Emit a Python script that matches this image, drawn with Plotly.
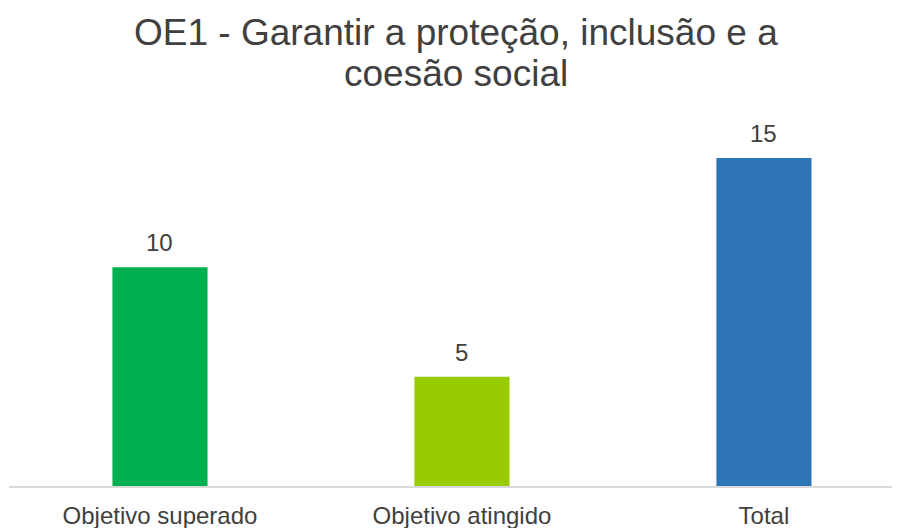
import plotly.graph_objs as go

CATEGORIES = ["Objetivo superado", "Objetivo atingido", "Total"]
VALUES = [10, 5, 15]
COLORS = ["#00B050", "#99CC00", "#2E75B6"]

TITLE_LINES = ["OE1 - Garantir a proteção, inclusão e a", "coesão social"]
FONT = "Liberation Sans, Arial, sans-serif"
TEXT_COLOR = "#404040"

fig = go.Figure()

fig.add_trace(
    go.Bar(x=CATEGORIES, y=VALUES, marker_color=COLORS, marker_line_width=0,
           hoverinfo="x+y", showlegend=False)
)

# value labels above the bars
for c, v in zip(CATEGORIES, VALUES):
    fig.add_annotation(x=c, y=v, text=str(v), showarrow=False,
                       yanchor="bottom", yshift=9,
                       font=dict(family=FONT, size=24, color=TEXT_COLOR))

# title, one annotation per line (tighter line spacing than plotly's title)
for i, line in enumerate(TITLE_LINES):
    fig.add_annotation(xref="paper", yref="paper", x=0.497, y=1,
                       yanchor="middle", yshift=104 - 41 * i,
                       text=line, showarrow=False,
                       font=dict(family=FONT, size=37, color=TEXT_COLOR))

fig.update_layout(
    width=900, height=528,
    margin=dict(l=1, r=0, t=128, b=50),
    paper_bgcolor="white", plot_bgcolor="white",
    bargap=0.685,
    font=dict(family=FONT, color=TEXT_COLOR),
)

fig.update_xaxes(range=[-0.5, 2.477], showgrid=False, showline=True,
                 linecolor="#D9D9D9", linewidth=1.5, ticks="",
                 ticklabelstandoff=7,
                 tickfont=dict(family=FONT, size=24, color=TEXT_COLOR))
fig.update_yaxes(range=[0, 16], visible=False, showgrid=False, zeroline=False)

fig.write_html("out.html")
